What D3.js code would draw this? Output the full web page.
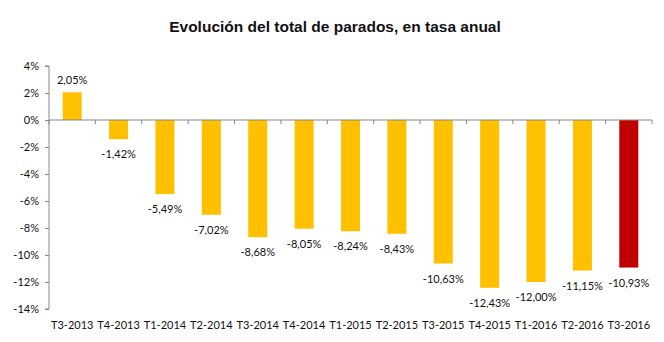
<!DOCTYPE html>
<html>
<head>
<meta charset="utf-8">
<script src="https://cdn.jsdelivr.net/npm/d3@7"></script>
<style>
  html, body { margin: 0; padding: 0; background: #fff; }
  svg { display: block; }
</style>
</head>
<body>
<svg id="chart" width="664" height="342"></svg>
<script>
// Quarterly annual rate of change in total unemployed
const categories = ["T3-2013","T4-2013","T1-2014","T2-2014","T3-2014","T4-2014","T1-2015","T2-2015","T3-2015","T4-2015","T1-2016","T2-2016","T3-2016"];
const values = [2.05, -1.42, -5.49, -7.02, -8.68, -8.05, -8.24, -8.43, -10.63, -12.43, -12.00, -11.15, -10.93];
const yTicks = [4, 2, 0, -2, -4, -6, -8, -10, -12, -14];

const svg = d3.select("#chart");
const labelFont = "Lato, 'Noto Sans', sans-serif";
const fmt = v => (v < 0 ? "-" : "") + d3.format(".2f")(Math.abs(v)).replace(".", ",") + "%";

const x = d3.scaleBand().domain(categories).range([49, 652]).paddingInner(0.59).paddingOuter(0.295);
const y = d3.scaleLinear().domain([-14, 4]).range([309, 66]);

// Title
svg.append("text")
  .attr("x", 335).attr("y", 32)
  .attr("text-anchor", "middle")
  .attr("font-family", "Arial, 'Liberation Sans', sans-serif")
  .attr("font-weight", "bold")
  .attr("font-size", 15.5)
  .attr("fill", "#111")
  .text("Evolución del total de parados, en tasa anual");

// Y axis
const yAxis = d3.axisLeft(y).tickValues(yTicks).tickSize(4).tickPadding(6).tickFormat(d => d + "%");
const gy = svg.append("g").attr("transform", "translate(49,0)").call(yAxis);
gy.select(".domain").attr("stroke", "#888").attr("d", `M-4,${y(4)}H0V${y(-14)}H-4`);
gy.selectAll(".tick line").attr("stroke", "#888");
gy.selectAll(".tick text").attr("font-family", labelFont).attr("font-size", 11).attr("fill", "#111");

// Bars
svg.append("g").selectAll("rect")
  .data(values)
  .join("rect")
  .attr("x", (d, i) => x(categories[i]))
  .attr("width", x.bandwidth())
  .attr("y", d => y(Math.max(0, d)))
  .attr("height", d => Math.abs(y(d) - y(0)))
  .attr("fill", (d, i) => i === values.length - 1 ? "#C00000" : "#FFC000");

// Zero baseline with category separators
const step = x.step();
const zero = svg.append("g");
zero.append("line")
  .attr("x1", 49).attr("x2", 652)
  .attr("y1", y(0)).attr("y2", y(0))
  .attr("stroke", "#888").attr("stroke-width", 1.2);
zero.selectAll("line.sep")
  .data(d3.range(categories.length + 1))
  .join("line")
  .attr("class", "sep")
  .attr("x1", i => 49 + i * step).attr("x2", i => 49 + i * step)
  .attr("y1", y(0)).attr("y2", y(0) + 4)
  .attr("stroke", "#888");

// Value labels
svg.append("g").selectAll("text")
  .data(values)
  .join("text")
  .attr("x", (d, i) => x(categories[i]) + x.bandwidth() / 2)
  .attr("y", d => d >= 0 ? y(d) - 8 : y(d) + 19)
  .attr("text-anchor", "middle")
  .attr("font-family", labelFont)
  .attr("font-size", 11)
  .attr("fill", "#111")
  .text(fmt);

// Category labels
svg.append("g").selectAll("text")
  .data(categories)
  .join("text")
  .attr("x", d => x(d) + x.bandwidth() / 2)
  .attr("y", 329)
  .attr("text-anchor", "middle")
  .attr("font-family", labelFont)
  .attr("font-size", 11)
  .attr("fill", "#111")
  .text(d => d);
</script>
</body>
</html>
